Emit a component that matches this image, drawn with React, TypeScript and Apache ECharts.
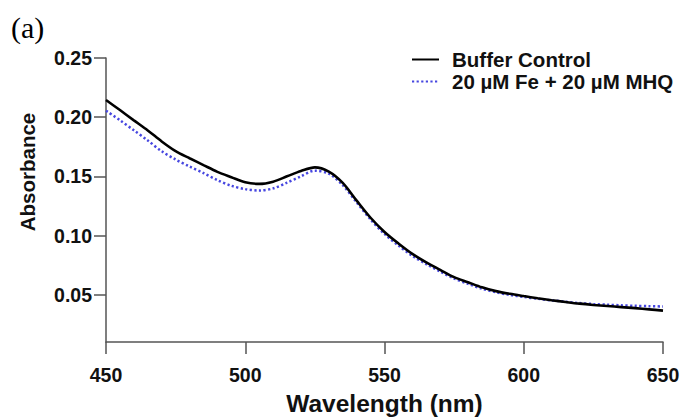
import React, { useEffect, useRef } from 'react';
import * as echarts from 'echarts';

const wavelengths = [
  450, 455, 460, 465, 470, 475, 480, 485, 490, 495,
  500, 505, 510, 515, 520, 525, 530, 535, 540, 545,
  550, 555, 560, 565, 570, 575, 580, 585, 590, 595,
  600, 605, 610, 615, 620, 625, 630, 635, 640, 645, 650,
];

const bufferControl = [
  0.2145, 0.2060, 0.1973, 0.1888, 0.1795, 0.1713, 0.1653, 0.1595, 0.1538, 0.1493,
  0.1450, 0.1436, 0.1455, 0.1500, 0.1545, 0.1576, 0.1540, 0.1445, 0.1295, 0.1150,
  0.1030, 0.0933, 0.0845, 0.0773, 0.0710, 0.0648, 0.0605, 0.0562, 0.0530, 0.0507,
  0.0488, 0.0470, 0.0453, 0.0438, 0.0424, 0.0413, 0.0404, 0.0395, 0.0386, 0.0376, 0.0365,
];

const feMhq = [
  0.2055, 0.1974, 0.1889, 0.1803, 0.1712, 0.1642, 0.1583, 0.1528, 0.1468, 0.1420,
  0.1392, 0.1380, 0.1398, 0.1446, 0.1500, 0.1548, 0.1522, 0.1425, 0.1280, 0.1135,
  0.1013, 0.0915, 0.0828, 0.0758, 0.0695, 0.0636, 0.0592, 0.0550, 0.0520, 0.0498,
  0.0481, 0.0465, 0.0452, 0.0440, 0.0429, 0.0421, 0.0415, 0.0410, 0.0406, 0.0403, 0.0400,
];

const yTickValues = [0.05, 0.1, 0.15, 0.2, 0.25];

const seriesNames = ['Buffer Control', '20 µM Fe + 20 µM MHQ'];

const SANS = '"Liberation Sans", Arial, Helvetica, sans-serif';
const AXIS_COLOR = '#555555';
const TEXT_COLOR = '#111111';
const BLUE = '#4646e0';

export default function App() {
  const ref = useRef<HTMLDivElement>(null);

  useEffect(() => {
    if (!ref.current) return;
    const chart = echarts.init(ref.current, null, { renderer: 'svg' });
    chart.setOption({
      animation: false,
      backgroundColor: '#ffffff',
      grid: {
        left: 106,
        right: 23,
        top: 58,
        bottom: 75,
        containLabel: false,
        outerBoundsMode: 'none',
      },
      legend: {
        orient: 'vertical',
        left: 411,
        top: 49,
        padding: 0,
        itemWidth: 27,
        itemHeight: 14,
        itemGap: 1,
        data: seriesNames,
        itemStyle: { opacity: 0 },
        textStyle: {
          fontFamily: SANS,
          fontWeight: 'bold',
          fontSize: 20.5,
          color: TEXT_COLOR,
          padding: [0, 0, 0, 8],
        },
      },
      graphic: [
        {
          type: 'text',
          x: 11,
          y: 27,
          style: {
            text: '(a)',
            font: '30px "Liberation Serif", "Times New Roman", serif',
            fill: '#000000',
            align: 'left',
            verticalAlign: 'middle',
          },
        },
        {
          type: 'text',
          x: 27,
          y: 172,
          rotation: Math.PI / 2,
          style: {
            text: 'Absorbance',
            font: 'bold 20.5px "Liberation Sans", Arial, sans-serif',
            fill: TEXT_COLOR,
            align: 'center',
            verticalAlign: 'middle',
          },
        },
      ],
      xAxis: {
        type: 'value',
        min: 450,
        max: 650,
        interval: 50,
        axisLine: { show: true, onZero: false, lineStyle: { color: AXIS_COLOR, width: 1.5 } },
        axisTick: { show: true, length: 12, lineStyle: { color: AXIS_COLOR, width: 1.5 } },
        axisLabel: {
          margin: 23,
          fontFamily: SANS,
          fontWeight: 'bold',
          fontSize: 19.5,
          color: TEXT_COLOR,
        },
        splitLine: { show: false },
        name: 'Wavelength (nm)',
        nameLocation: 'middle',
        nameGap: 49,
        nameTextStyle: {
          fontFamily: SANS,
          fontWeight: 'bold',
          fontSize: 24.5,
          color: TEXT_COLOR,
        },
      },
      yAxis: {
        type: 'value',
        min: 0.01,
        max: 0.25,
        axisLine: { show: true, onZero: false, lineStyle: { color: AXIS_COLOR, width: 1.5 } },
        axisTick: {
          show: true,
          length: 12,
          customValues: yTickValues,
          lineStyle: { color: AXIS_COLOR, width: 1.5 },
        },
        axisLabel: {
          customValues: yTickValues,
          margin: 14,
          fontFamily: SANS,
          fontWeight: 'bold',
          fontSize: 19.5,
          color: TEXT_COLOR,
          formatter: (v: number) => v.toFixed(2),
        },
        splitLine: { show: false },
      },
      series: [
        {
          name: seriesNames[1],
          type: 'line',
          data: wavelengths.map((w, i) => [w, feMhq[i]]),
          symbol: 'none',
          smooth: 0.3,
          lineStyle: { color: BLUE, width: 2.5, type: [2.2, 2.4], cap: 'butt' },
          itemStyle: { color: BLUE },
          z: 2,
        },
        {
          name: seriesNames[0],
          type: 'line',
          data: wavelengths.map((w, i) => [w, bufferControl[i]]),
          symbol: 'none',
          smooth: 0.3,
          lineStyle: { color: '#000000', width: 2.6, type: 'solid' },
          itemStyle: { color: '#000000' },
          z: 3,
        },
      ],
    });
    return () => chart.dispose();
  }, []);

  return (
    <div
      ref={ref}
      style={{ position: 'fixed', left: 0, top: 0, width: 686, height: 417, background: '#ffffff' }}
    />
  );
}
